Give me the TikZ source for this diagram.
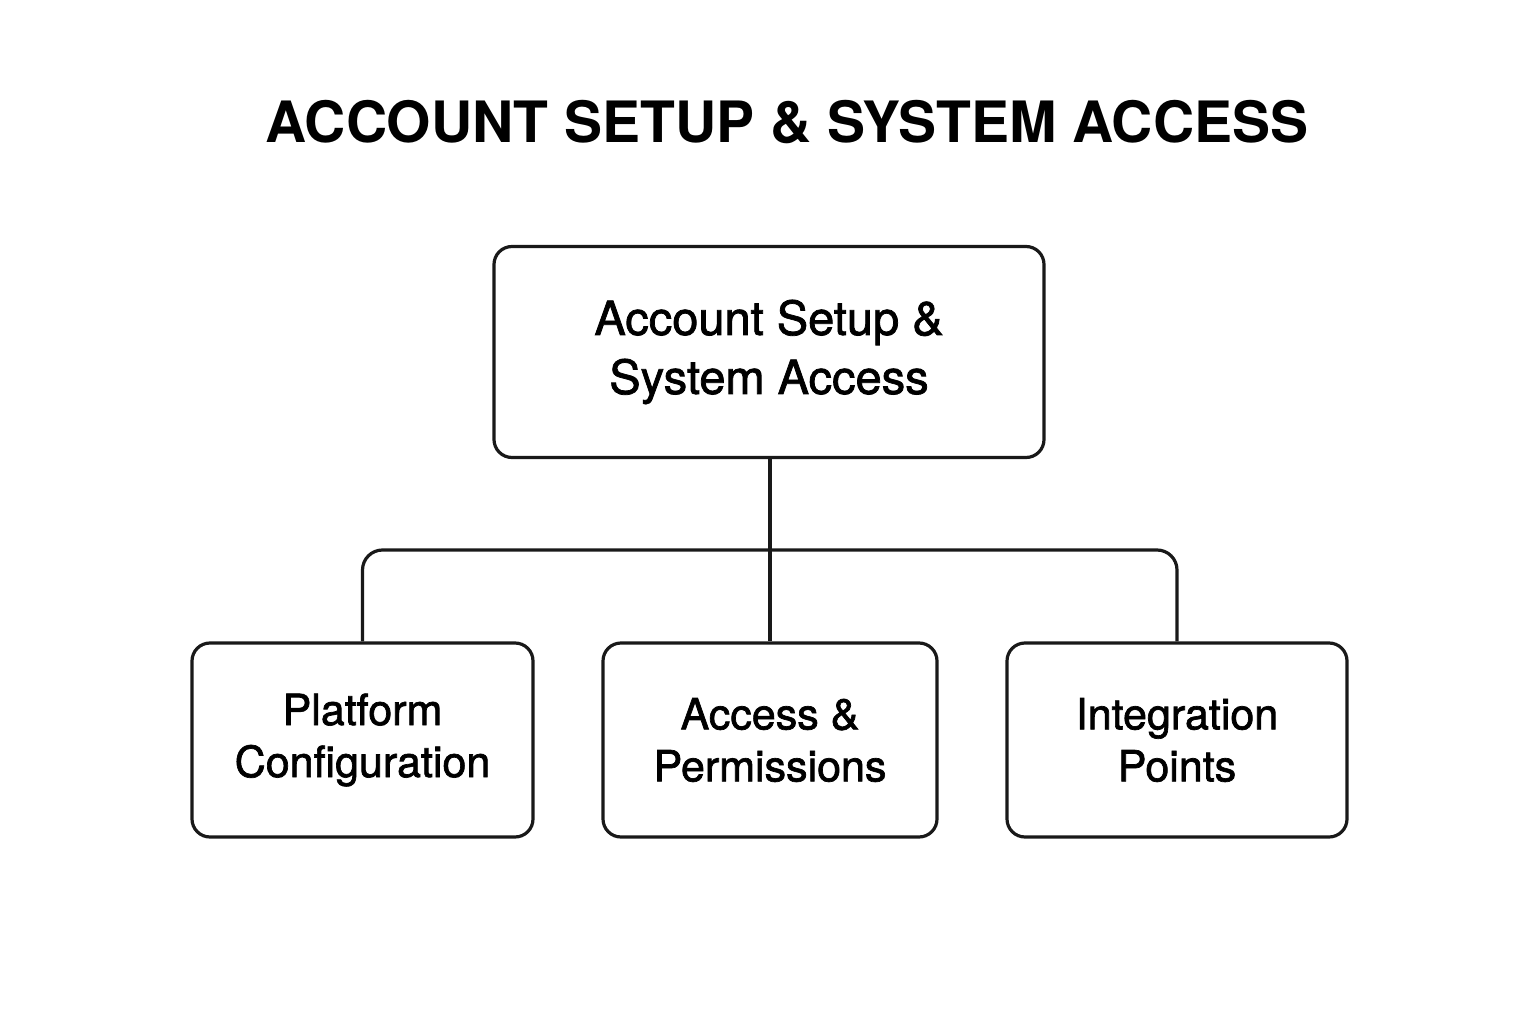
\documentclass[tikz,border=0pt]{standalone}
\usepackage{fontspec}
\setmainfont{TeX Gyre Heros}
\newfontfamily\medfont{TeX Gyre Heros}[FakeBold=1.6]
\begin{document}
\begin{tikzpicture}[x=1pt,y=-1pt,
  box/.style={draw=black!90,line width=3.2pt,rounded corners=18pt,align=center,inner sep=0pt},
  conn/.style={draw=black!90,line width=3.2pt}]
\useasboundingbox (0,0) rectangle (1536,1024);
\node[font=\bfseries\fontsize{57}{60}\selectfont] (title) at (787,122) {ACCOUNT SETUP \& SYSTEM ACCESS};
\node[box,minimum width=550pt,minimum height=211pt,font=\medfont\fontsize{47}{59}\selectfont] (top) at (769,352) {Account Setup \&\\System Access};
\node[box,minimum width=341pt,minimum height=194pt,font=\medfont\fontsize{43}{52}\selectfont] (a) at (362.5,740) {Platform\\Configuration};
\node[box,minimum width=334pt,minimum height=194pt,font=\medfont\fontsize{43}{52}\selectfont] (b) at (770,740) {Access \&\\Permissions};
\node[box,minimum width=340pt,minimum height=194pt,font=\medfont\fontsize{43}{52}\selectfont] (c) at (1177,740) {Integration\\Points};
\coordinate (j) at (770,550);
\draw[conn] (top.south -| b.north) -- (b.north);
\draw[conn,rounded corners=20pt] (a.north) -- (a.north |- j) -- (c.north |- j) -- (c.north);
\end{tikzpicture}
\end{document}
